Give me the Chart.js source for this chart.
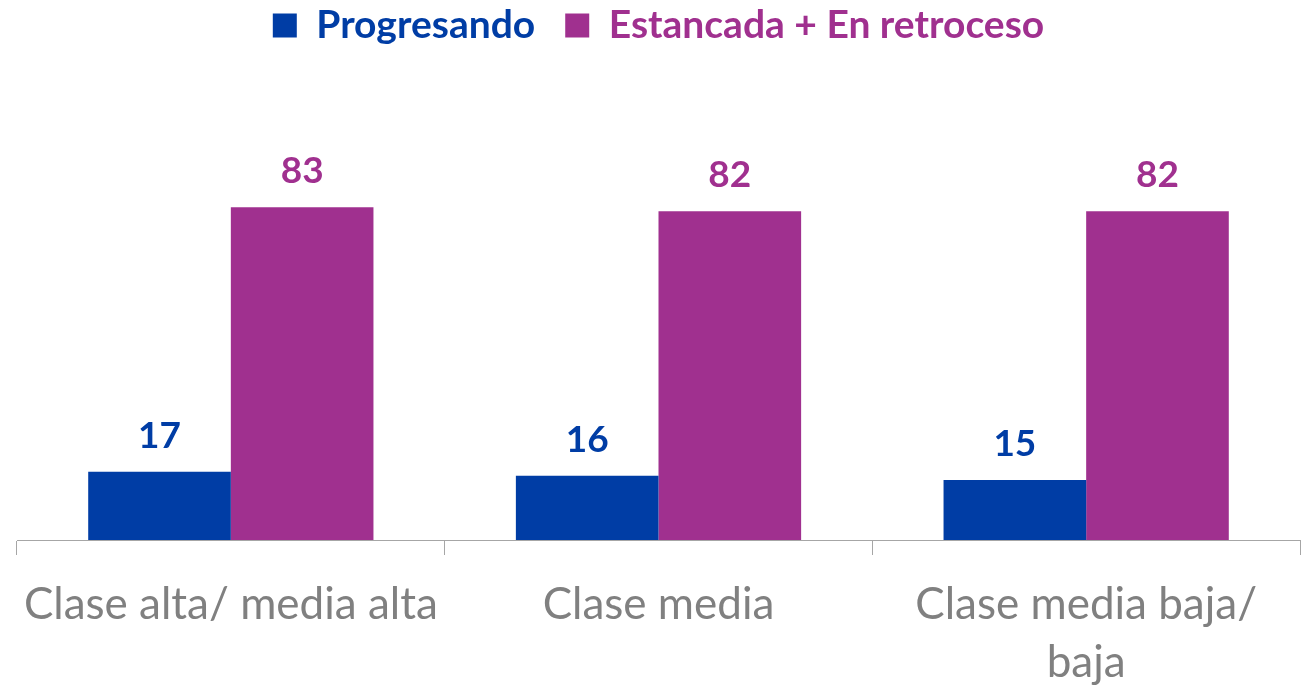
<!DOCTYPE html>
<html>
<head>
<meta charset="utf-8">
<script src="https://cdn.jsdelivr.net/npm/chart.js@4.4.1/dist/chart.umd.min.js"></script>
<style>
  html, body { margin: 0; padding: 0; background: #fff; }
  .chart-container { width: 1312px; height: 685px; }
</style>
</head>
<body>
<div class="chart-container"><canvas id="chart"></canvas></div>
<script>
const categories = [
  'Clase alta/ media alta',
  'Clase media',
  ['Clase media baja/', 'baja'],
];
const progresando = [17, 16, 15];
const estancada = [83, 82, 82];

const BLUE = '#003DA5';
const PURPLE = '#A0308F';
const FONT = 'Lato, "Open Sans", sans-serif';

// draws the value above each bar, in the colour of its series
const barValues = {
  id: 'barValues',
  afterDatasetsDraw(chart) {
    const ctx = chart.ctx;
    ctx.save();
    ctx.font = 'bold 37px ' + FONT;
    ctx.textAlign = 'center';
    ctx.textBaseline = 'alphabetic';
    chart.data.datasets.forEach((ds, i) => {
      chart.getDatasetMeta(i).data.forEach((bar, j) => {
        ctx.fillStyle = ds.backgroundColor;
        ctx.fillText(ds.data[j], bar.x, bar.y - 24);
      });
    });
    ctx.restore();
  }
};

new Chart(document.getElementById('chart'), {
  type: 'bar',
  data: {
    labels: categories,
    datasets: [
      { label: 'Progresando', data: progresando, backgroundColor: BLUE },
      { label: 'Estancada + En retroceso', data: estancada, backgroundColor: PURPLE },
    ],
  },
  options: {
    responsive: true,
    maintainAspectRatio: false,
    animation: false,
    layout: { padding: { left: 17, right: 12, top: -24, bottom: 0 } },
    datasets: {
      bar: { categoryPercentage: 0.667, barPercentage: 1.0 },
    },
    plugins: {
      tooltip: { enabled: false },
      legend: {
        position: 'top',
        labels: {
          boxWidth: 24,
          boxHeight: 24,
          padding: 30,
          font: { family: FONT, size: 39, weight: 'bold' },
          generateLabels(chart) {
            const items = Chart.defaults.plugins.legend.labels.generateLabels(chart);
            items.forEach(it => { it.fontColor = it.fillStyle; it.lineWidth = 0; });
            return items;
          },
        },
      },
    },
    scales: {
      x: {
        afterFit(scale) { scale.height = 145; },
        grid: {
          drawOnChartArea: false,
          drawTicks: true,
          tickLength: 15,
          color: '#A6A6A6',
        },
        border: { color: '#A6A6A6', width: 1 },
        ticks: {
          color: '#808080',
          font: { family: FONT, size: 44, lineHeight: 1.32 },
          padding: 21,
          maxRotation: 0,
        },
      },
      y: {
        display: false,
        min: 0,
        max: 121,
      },
    },
  },
  plugins: [barValues],
});
</script>
</body>
</html>
